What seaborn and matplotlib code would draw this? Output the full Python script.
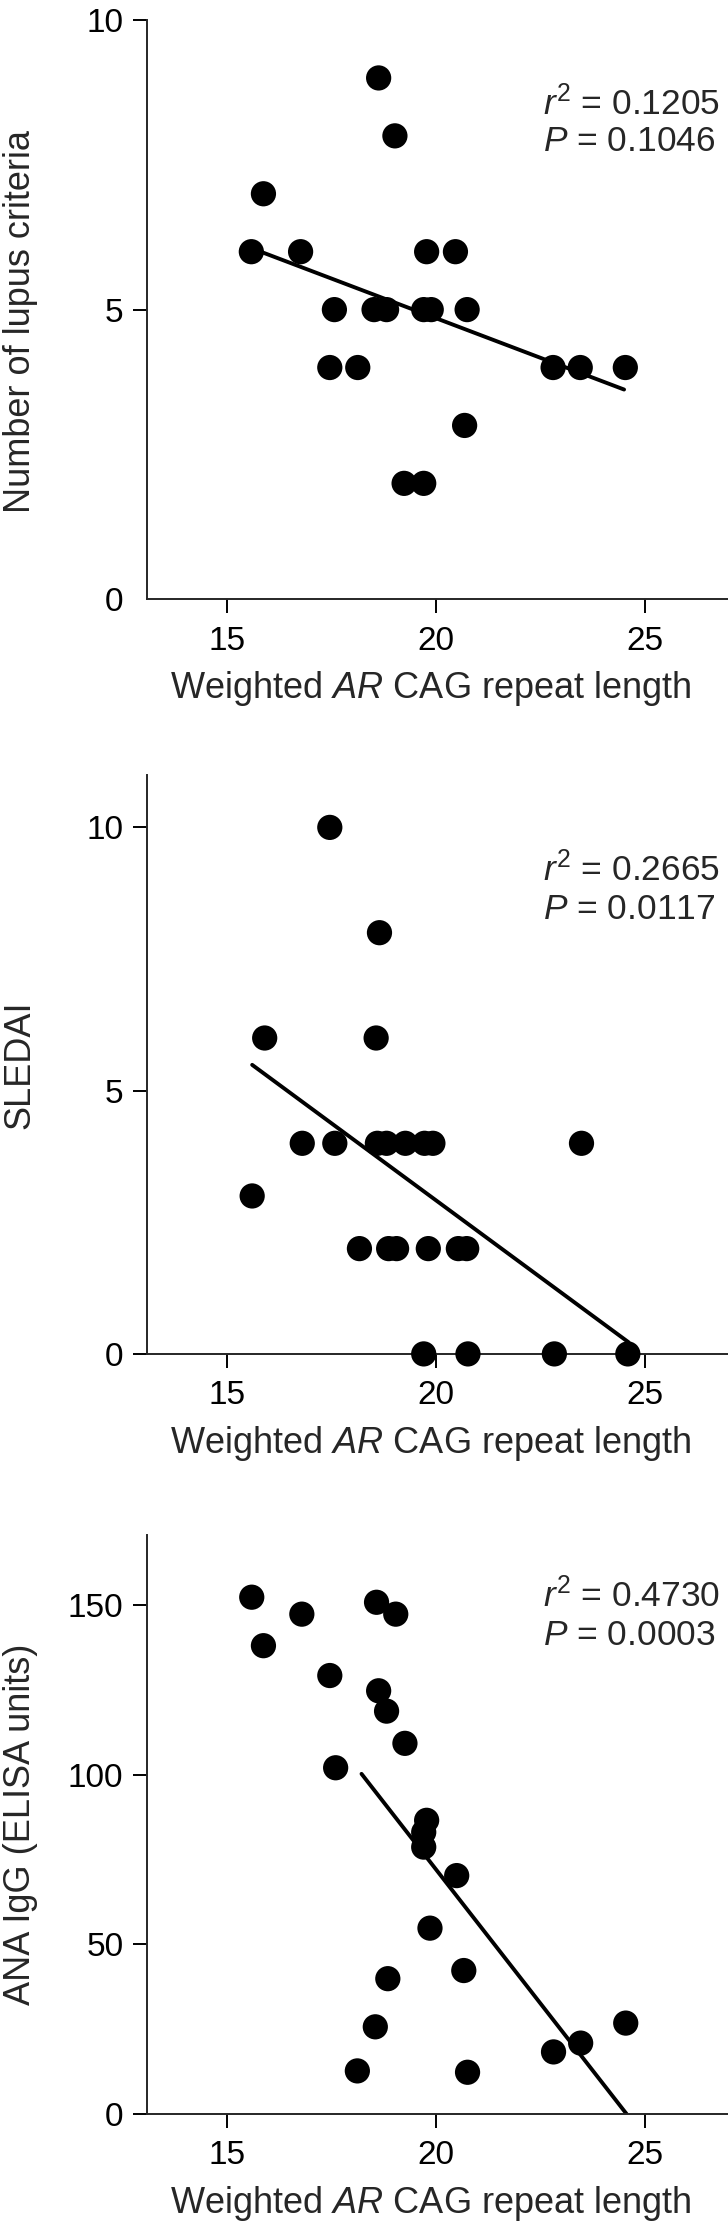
import numpy as np
import pandas as pd
import matplotlib
matplotlib.use("Agg")
import matplotlib.pyplot as plt
import seaborn as sns

# weighted AR CAG repeat length vs three outcomes
lupus_x = [15.58, 15.87, 16.76, 17.57, 17.46, 18.13, 18.63, 18.52, 18.82, 19.02, 19.24,
           19.71, 19.78, 19.71, 19.89, 20.47, 20.75, 20.69, 22.81, 23.46, 24.54]
lupus_y = [6, 7, 6, 5, 4, 4, 9, 5, 5, 8, 2, 2, 6, 5, 5, 6, 5, 3, 4, 4, 4]

sledai_x = [17.46, 18.65, 15.90, 18.57, 16.80, 17.58, 18.60, 18.82, 19.27, 19.73, 19.93, 23.49,
            15.60, 18.17, 18.87, 19.06, 19.82, 20.54, 20.74, 19.71, 20.77, 22.84, 24.60]
sledai_y = [10, 8, 6, 6, 4, 4, 4, 4, 4, 4, 4, 4, 3, 2, 2, 2, 2, 2, 2, 0, 0, 0, 0]

ana_x = [15.59, 15.87, 16.79, 17.46, 17.60, 18.58, 19.04, 18.63, 18.82, 19.26, 19.78, 19.71,
         19.71, 20.50, 19.86, 20.67, 18.85, 18.55, 18.12, 20.76, 22.82, 23.47, 24.55]
ana_y = [152.4, 138.1, 147.4, 129.3, 102.1, 150.9, 147.4, 124.8, 118.8, 109.3, 86.6, 83.1,
         78.7, 70.3, 54.8, 42.3, 39.9, 25.7, 12.7, 12.3, 18.3, 20.9, 26.8]

# fitted regression lines as drawn (end points)
lupus_fit_x = [15.84, 24.51]
lupus_fit_y = [5.99, 3.62]
sledai_fit_x = [15.60, 24.62]
sledai_fit_y = [5.49, 0.22]
ana_fit_x = [18.22, 24.57]
ana_fit_y = [100.3, 0.0]

ylabels = ["Number of lupus criteria", "SLEDAI", "ANA IgG (ELISA units)"]
r2_text = ["0.1205", "0.2665", "0.4730"]
p_text = ["0.1046", "0.0117", "0.0003"]

sns.set_style("ticks")
plt.rcParams["font.family"] = ["Liberation Sans", "DejaVu Sans"]
plt.rcParams["mathtext.fontset"] = "custom"
plt.rcParams["mathtext.rm"] = "Liberation Sans"
plt.rcParams["mathtext.it"] = "Liberation Sans:italic"

fig = plt.figure(figsize=(7.28, 22.25), dpi=100)
left, width, height = 0.2019, 0.7981, 0.2603
bottoms = [0.7307, 0.3915, 0.0499]

panels = [
    (lupus_x, lupus_y, lupus_fit_x, lupus_fit_y, (0, 10), [0, 5, 10], (8.36, 7.74), 0.48),
    (sledai_x, sledai_y, sledai_fit_x, sledai_fit_y, (0, 11.0), [0, 5, 10], (8.98, 8.26), 0.5),
    (ana_x, ana_y, ana_fit_x, ana_fit_y, (0, 170.8), [0, 50, 100, 150], (149.6, 138.4), 0.5),
]

for i, (xs, ys, fx, fy, ylim, yt, txt_y, lab_y) in enumerate(panels):
    ax = fig.add_axes([left, bottoms[i], width, height])
    df = pd.DataFrame({"x": xs, "y": ys})
    fit = pd.DataFrame({"x": fx, "y": fy})
    sns.lineplot(data=fit, x="x", y="y", ax=ax, color="black", linewidth=2.8, zorder=2)
    sns.scatterplot(data=df, x="x", y="y", ax=ax, color="black", s=330,
                    edgecolor="none", zorder=3, clip_on=False)
    ax.set_xlim(13.08, 27.0)
    ax.set_ylim(*ylim)
    ax.set_xticks([15, 20, 25])
    ax.set_yticks(yt)
    sns.despine(ax=ax)
    for sp in ["left", "bottom"]:
        ax.spines[sp].set_linewidth(1.4)
    ax.tick_params(axis="both", direction="out", length=10, width=1.4,
                   labelsize=24, colors="black")
    ax.tick_params(axis="y", pad=7)
    ax.tick_params(axis="x", pad=9)
    if i == 0:
        ax.yaxis.get_major_ticks()[0].tick1line.set_visible(False)
    ax.set_xlabel("Weighted $AR$ CAG repeat length", fontsize=26, labelpad=9, x=0.489)
    ax.set_ylabel(ylabels[i], fontsize=26)
    ax.yaxis.set_label_coords(-0.188, lab_y)
    ax.text(22.57, txt_y[0], "$r^2$ = " + r2_text[i], fontsize=25.5, va="baseline", ha="left")
    ax.text(22.57, txt_y[1], "$P$ = " + p_text[i], fontsize=25.5, va="baseline", ha="left")

fig.savefig("out.png", dpi=100, facecolor="white")
